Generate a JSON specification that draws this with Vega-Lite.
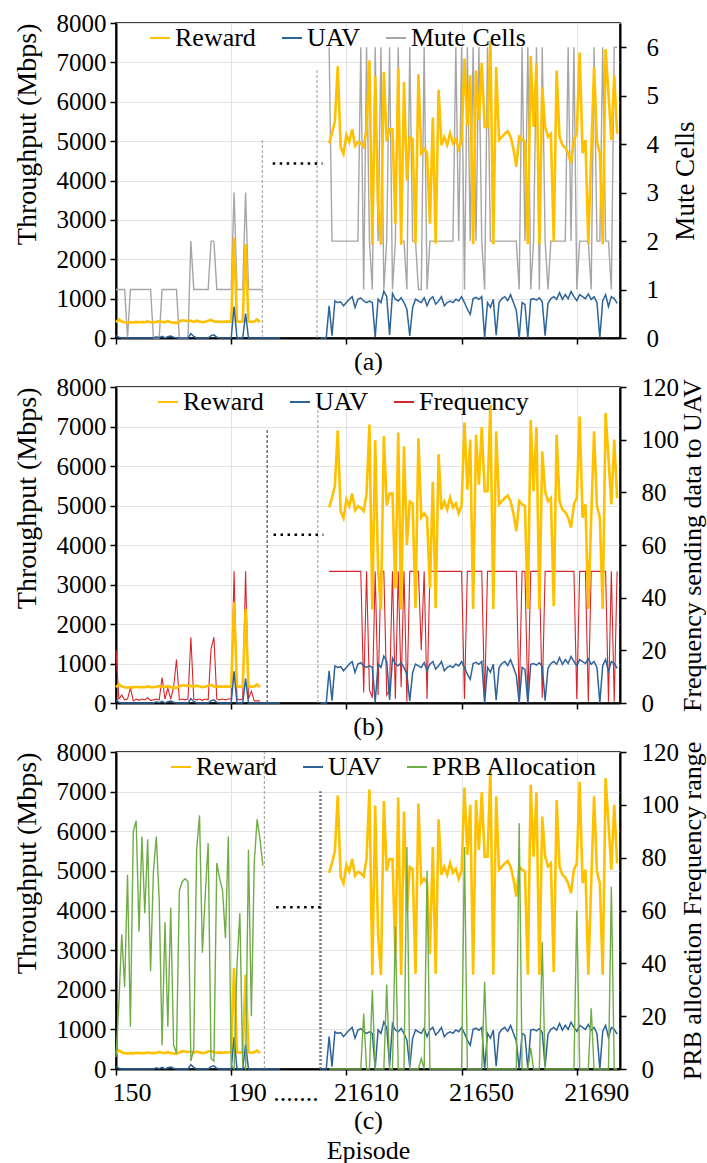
{
"$schema": "https://vega.github.io/schema/vega-lite/v6.json",
"background": "white",
"padding": {"left": 12, "top": 10, "right": 0, "bottom": 2},
"datasets": {"d": [
{"ep":150,"seg":"L","Reward":400,"UAV":60,"Mute":1,"Freq":20,"PRB":4.5},
{"ep":151,"seg":"L","Reward":470,"UAV":20,"Mute":1,"Freq":1.5,"PRB":25},
{"ep":152,"seg":"L","Reward":420,"UAV":0,"Mute":1,"Freq":3,"PRB":51},
{"ep":153,"seg":"L","Reward":400,"UAV":0,"Mute":1,"Freq":1.2,"PRB":31},
{"ep":154,"seg":"L","Reward":390,"UAV":0,"Mute":0,"Freq":1.5,"PRB":73.5},
{"ep":155,"seg":"L","Reward":400,"UAV":0,"Mute":1,"Freq":5.7,"PRB":16},
{"ep":156,"seg":"L","Reward":395,"UAV":0,"Mute":1,"Freq":0.8,"PRB":90},
{"ep":157,"seg":"L","Reward":410,"UAV":0,"Mute":1,"Freq":1.5,"PRB":94},
{"ep":158,"seg":"L","Reward":400,"UAV":0,"Mute":1,"Freq":1.0,"PRB":52},
{"ep":159,"seg":"L","Reward":405,"UAV":0,"Mute":1,"Freq":1.5,"PRB":88},
{"ep":160,"seg":"L","Reward":400,"UAV":0,"Mute":1,"Freq":1.2,"PRB":59},
{"ep":161,"seg":"L","Reward":420,"UAV":0,"Mute":1,"Freq":2,"PRB":87},
{"ep":162,"seg":"L","Reward":400,"UAV":0,"Mute":1,"Freq":1,"PRB":37},
{"ep":163,"seg":"L","Reward":400,"UAV":0,"Mute":0,"Freq":1.2,"PRB":75},
{"ep":164,"seg":"L","Reward":410,"UAV":30,"Mute":0,"Freq":1.5,"PRB":88},
{"ep":165,"seg":"L","Reward":430,"UAV":10,"Mute":0,"Freq":1.2,"PRB":64},
{"ep":166,"seg":"L","Reward":410,"UAV":40,"Mute":1,"Freq":9.7,"PRB":9},
{"ep":167,"seg":"L","Reward":400,"UAV":0,"Mute":1,"Freq":1.5,"PRB":55.5},
{"ep":168,"seg":"L","Reward":430,"UAV":30,"Mute":1,"Freq":5.7,"PRB":16},
{"ep":169,"seg":"L","Reward":400,"UAV":50,"Mute":1,"Freq":1.5,"PRB":61},
{"ep":170,"seg":"L","Reward":390,"UAV":20,"Mute":1,"Freq":6,"PRB":9},
{"ep":171,"seg":"L","Reward":380,"UAV":0,"Mute":1,"Freq":16.5,"PRB":6},
{"ep":172,"seg":"L","Reward":420,"UAV":0,"Mute":0,"Freq":1.2,"PRB":67.5},
{"ep":173,"seg":"L","Reward":450,"UAV":0,"Mute":0,"Freq":1.5,"PRB":71},
{"ep":174,"seg":"L","Reward":440,"UAV":0,"Mute":0,"Freq":1.2,"PRB":72},
{"ep":175,"seg":"L","Reward":430,"UAV":0,"Mute":0,"Freq":1.5,"PRB":71},
{"ep":176,"seg":"L","Reward":440,"UAV":110,"Mute":2,"Freq":25,"PRB":3},
{"ep":177,"seg":"L","Reward":410,"UAV":40,"Mute":1,"Freq":1.5,"PRB":7.5},
{"ep":178,"seg":"L","Reward":440,"UAV":0,"Mute":1,"Freq":1.2,"PRB":83},
{"ep":179,"seg":"L","Reward":420,"UAV":0,"Mute":1,"Freq":1.5,"PRB":96},
{"ep":180,"seg":"L","Reward":400,"UAV":0,"Mute":1,"Freq":1,"PRB":44},
{"ep":181,"seg":"L","Reward":410,"UAV":0,"Mute":1,"Freq":1.5,"PRB":66},
{"ep":182,"seg":"L","Reward":440,"UAV":0,"Mute":1,"Freq":1.2,"PRB":85.5},
{"ep":183,"seg":"L","Reward":460,"UAV":60,"Mute":2,"Freq":20.5,"PRB":4},
{"ep":184,"seg":"L","Reward":420,"UAV":80,"Mute":2,"Freq":25,"PRB":3},
{"ep":185,"seg":"L","Reward":410,"UAV":20,"Mute":1,"Freq":1.5,"PRB":78},
{"ep":186,"seg":"L","Reward":420,"UAV":0,"Mute":1,"Freq":1.2,"PRB":72},
{"ep":187,"seg":"L","Reward":410,"UAV":0,"Mute":1,"Freq":1.5,"PRB":67.5},
{"ep":188,"seg":"L","Reward":420,"UAV":0,"Mute":1,"Freq":1.2,"PRB":49.5},
{"ep":189,"seg":"L","Reward":415,"UAV":0,"Mute":1,"Freq":1.5,"PRB":88},
{"ep":190,"seg":"L","Reward":420,"UAV":0,"Mute":1,"Freq":1.5,"PRB":1.5},
{"ep":191,"seg":"L","Reward":2550,"UAV":800,"Mute":3,"Freq":50,"PRB":0},
{"ep":192,"seg":"L","Reward":420,"UAV":0,"Mute":1,"Freq":1.5,"PRB":39},
{"ep":193,"seg":"L","Reward":410,"UAV":0,"Mute":1,"Freq":1.2,"PRB":59},
{"ep":194,"seg":"L","Reward":420,"UAV":0,"Mute":1,"Freq":1.5,"PRB":1.5},
{"ep":195,"seg":"L","Reward":2380,"UAV":620,"Mute":3,"Freq":50,"PRB":0},
{"ep":196,"seg":"L","Reward":420,"UAV":0,"Mute":1,"Freq":1.5,"PRB":83},
{"ep":197,"seg":"L","Reward":410,"UAV":0,"Mute":1,"Freq":4.5,"PRB":20},
{"ep":198,"seg":"L","Reward":420,"UAV":0,"Mute":1,"Freq":0.8,"PRB":78},
{"ep":199,"seg":"L","Reward":470,"UAV":0,"Mute":1,"Freq":0.8,"PRB":94.5},
{"ep":200,"seg":"L","Reward":400,"UAV":0,"Mute":1,"Freq":0.8,"PRB":87},
{"ep":201,"seg":"L","UAV":0,"Mute":1,"PRB":77},
{"ep":202,"seg":"L","UAV":0},
{"ep":203,"seg":"L","UAV":0},
{"ep":204,"seg":"L","UAV":0},
{"ep":205,"seg":"L","UAV":0},
{"ep":206,"seg":"L","UAV":0},
{"ep":207,"seg":"L","UAV":0},
{"ep":221,"seg":"R","UAV":0},
{"ep":222,"seg":"R","UAV":0},
{"ep":223,"seg":"R","UAV":0},
{"ep":224,"seg":"R","Reward":4950,"UAV":817,"Mute":6,"Freq":50,"PRB":0},
{"ep":225,"seg":"R","Reward":5200,"UAV":60,"Mute":2,"Freq":50,"PRB":0},
{"ep":226,"seg":"R","Reward":5500,"UAV":940,"Mute":2,"Freq":50,"PRB":0},
{"ep":227,"seg":"R","Reward":6900,"UAV":900,"Mute":2,"Freq":50,"PRB":0},
{"ep":228,"seg":"R","Reward":4850,"UAV":920,"Mute":2,"Freq":50,"PRB":0},
{"ep":229,"seg":"R","Reward":4680,"UAV":817,"Mute":2,"Freq":50,"PRB":0},
{"ep":230,"seg":"R","Reward":5150,"UAV":900,"Mute":2,"Freq":50,"PRB":0},
{"ep":231,"seg":"R","Reward":4980,"UAV":985,"Mute":2,"Freq":50,"PRB":0},
{"ep":232,"seg":"R","Reward":5300,"UAV":1050,"Mute":2,"Freq":50,"PRB":0},
{"ep":233,"seg":"R","Reward":4880,"UAV":775,"Mute":2,"Freq":50,"PRB":0},
{"ep":234,"seg":"R","Reward":4980,"UAV":985,"Mute":2,"Freq":50,"PRB":0},
{"ep":235,"seg":"R","Reward":4940,"UAV":1020,"Mute":6,"Freq":50,"PRB":0},
{"ep":236,"seg":"R","Reward":4860,"UAV":940,"Mute":1,"Freq":4,"PRB":21},
{"ep":237,"seg":"R","Reward":5300,"UAV":900,"Mute":6,"Freq":50,"PRB":0},
{"ep":238,"seg":"R","Reward":7050,"UAV":940,"Mute":2,"Freq":5,"PRB":0},
{"ep":239,"seg":"R","Reward":2370,"UAV":900,"Mute":1,"Freq":2,"PRB":30},
{"ep":240,"seg":"R","Reward":6650,"UAV":20,"Mute":6,"Freq":50,"PRB":0},
{"ep":241,"seg":"R","Reward":3400,"UAV":985,"Mute":2,"Freq":3,"PRB":0},
{"ep":242,"seg":"R","Reward":2370,"UAV":900,"Mute":6,"Freq":50,"PRB":0},
{"ep":243,"seg":"R","Reward":6760,"UAV":1190,"Mute":1,"Freq":50,"PRB":0},
{"ep":244,"seg":"R","Reward":5000,"UAV":1050,"Mute":2,"Freq":3,"PRB":32},
{"ep":245,"seg":"R","Reward":5300,"UAV":80,"Mute":6,"Freq":5,"PRB":0},
{"ep":246,"seg":"R","Reward":5300,"UAV":1136,"Mute":1,"Freq":50,"PRB":0},
{"ep":247,"seg":"R","Reward":2900,"UAV":985,"Mute":2,"Freq":1.5,"PRB":54},
{"ep":248,"seg":"R","Reward":6850,"UAV":940,"Mute":6,"Freq":50,"PRB":0},
{"ep":249,"seg":"R","Reward":2370,"UAV":1020,"Mute":2,"Freq":6,"PRB":0},
{"ep":250,"seg":"R","Reward":6500,"UAV":900,"Mute":2,"Freq":50,"PRB":0},
{"ep":251,"seg":"R","Reward":4000,"UAV":730,"Mute":1,"Freq":0.5,"PRB":84},
{"ep":252,"seg":"R","Reward":5100,"UAV":50,"Mute":6,"Freq":50,"PRB":0},
{"ep":253,"seg":"R","Reward":5050,"UAV":775,"Mute":2,"Freq":50,"PRB":0},
{"ep":254,"seg":"R","Reward":2400,"UAV":985,"Mute":2,"Freq":50,"PRB":0},
{"ep":255,"seg":"R","Reward":6700,"UAV":940,"Mute":1,"Freq":50,"PRB":0},
{"ep":256,"seg":"R","Reward":4700,"UAV":900,"Mute":1,"Freq":20,"PRB":4},
{"ep":257,"seg":"R","Reward":4800,"UAV":1020,"Mute":6,"Freq":50,"PRB":0},
{"ep":258,"seg":"R","Reward":4700,"UAV":817,"Mute":1,"Freq":1.5,"PRB":75},
{"ep":259,"seg":"R","Reward":2900,"UAV":985,"Mute":2,"Freq":50,"PRB":0},
{"ep":260,"seg":"R","Reward":5600,"UAV":1050,"Mute":2,"Freq":50,"PRB":0},
{"ep":261,"seg":"R","Reward":2400,"UAV":860,"Mute":2,"Freq":50,"PRB":0},
{"ep":262,"seg":"R","Reward":6300,"UAV":940,"Mute":2,"Freq":50,"PRB":0},
{"ep":263,"seg":"R","Reward":4900,"UAV":1050,"Mute":2,"Freq":50,"PRB":0},
{"ep":264,"seg":"R","Reward":5100,"UAV":817,"Mute":2,"Freq":50,"PRB":0},
{"ep":265,"seg":"R","Reward":4900,"UAV":900,"Mute":2,"Freq":50,"PRB":0},
{"ep":266,"seg":"R","Reward":5200,"UAV":940,"Mute":2,"Freq":50,"PRB":0},
{"ep":267,"seg":"R","Reward":4950,"UAV":900,"Mute":2,"Freq":50,"PRB":0},
{"ep":268,"seg":"R","Reward":5050,"UAV":985,"Mute":6,"Freq":50,"PRB":0},
{"ep":269,"seg":"R","Reward":4800,"UAV":940,"Mute":2,"Freq":50,"PRB":0},
{"ep":270,"seg":"R","Reward":5000,"UAV":1050,"Mute":6,"Freq":50,"PRB":0},
{"ep":271,"seg":"R","Reward":7100,"UAV":900,"Mute":1,"Freq":1.5,"PRB":84},
{"ep":272,"seg":"R","Reward":5400,"UAV":730,"Mute":6,"Freq":50,"PRB":0},
{"ep":273,"seg":"R","Reward":6670,"UAV":600,"Mute":2,"Freq":50,"PRB":0},
{"ep":274,"seg":"R","Reward":2380,"UAV":1000,"Mute":6,"Freq":50,"PRB":0},
{"ep":275,"seg":"R","Reward":6790,"UAV":1030,"Mute":2,"Freq":50,"PRB":0},
{"ep":276,"seg":"R","Reward":5530,"UAV":980,"Mute":6,"Freq":50,"PRB":0},
{"ep":277,"seg":"R","Reward":6980,"UAV":1050,"Mute":2,"Freq":50,"PRB":0},
{"ep":278,"seg":"R","Reward":5360,"UAV":0,"Mute":1,"Freq":0.5,"PRB":33},
{"ep":279,"seg":"R","Reward":5360,"UAV":900,"Mute":6,"Freq":50,"PRB":0},
{"ep":280,"seg":"R","Reward":7550,"UAV":780,"Mute":2,"Freq":50,"PRB":0},
{"ep":281,"seg":"R","Reward":2380,"UAV":980,"Mute":2,"Freq":50,"PRB":0},
{"ep":282,"seg":"R","Reward":6880,"UAV":70,"Mute":2,"Freq":50,"PRB":0},
{"ep":283,"seg":"R","Reward":5030,"UAV":900,"Mute":2,"Freq":50,"PRB":0},
{"ep":284,"seg":"R","Reward":5110,"UAV":1000,"Mute":2,"Freq":50,"PRB":0},
{"ep":285,"seg":"R","Reward":5190,"UAV":1050,"Mute":2,"Freq":50,"PRB":0},
{"ep":286,"seg":"R","Reward":5250,"UAV":950,"Mute":2,"Freq":50,"PRB":0},
{"ep":287,"seg":"R","Reward":5110,"UAV":1100,"Mute":2,"Freq":50,"PRB":0},
{"ep":288,"seg":"R","Reward":4800,"UAV":900,"Mute":2,"Freq":50,"PRB":0},
{"ep":289,"seg":"R","Reward":4350,"UAV":700,"Mute":2,"Freq":50,"PRB":0},
{"ep":290,"seg":"R","Reward":5110,"UAV":0,"Mute":1,"Freq":0.5,"PRB":93},
{"ep":291,"seg":"R","Reward":5030,"UAV":900,"Mute":6,"Freq":50,"PRB":0},
{"ep":292,"seg":"R","Reward":4980,"UAV":850,"Mute":2,"Freq":50,"PRB":0},
{"ep":293,"seg":"R","Reward":2380,"UAV":0,"Mute":6,"Freq":0.5,"PRB":0},
{"ep":294,"seg":"R","Reward":7170,"UAV":980,"Mute":1,"Freq":50,"PRB":8},
{"ep":295,"seg":"R","Reward":5360,"UAV":1000,"Mute":2,"Freq":50,"PRB":0},
{"ep":296,"seg":"R","Reward":6980,"UAV":960,"Mute":6,"Freq":50,"PRB":0},
{"ep":297,"seg":"R","Reward":2380,"UAV":1020,"Mute":1,"Freq":50,"PRB":0},
{"ep":298,"seg":"R","Reward":6370,"UAV":920,"Mute":6,"Freq":2,"PRB":48},
{"ep":299,"seg":"R","Reward":5360,"UAV":60,"Mute":2,"Freq":50,"PRB":0},
{"ep":300,"seg":"R","Reward":5110,"UAV":880,"Mute":1,"Freq":50,"PRB":0},
{"ep":301,"seg":"R","Reward":5190,"UAV":1000,"Mute":2,"Freq":50,"PRB":0},
{"ep":302,"seg":"R","Reward":2450,"UAV":1050,"Mute":2,"Freq":50,"PRB":0},
{"ep":303,"seg":"R","Reward":6790,"UAV":980,"Mute":2,"Freq":50,"PRB":0},
{"ep":304,"seg":"R","Reward":5110,"UAV":1150,"Mute":2,"Freq":50,"PRB":0},
{"ep":305,"seg":"R","Reward":4900,"UAV":980,"Mute":2,"Freq":50,"PRB":0},
{"ep":306,"seg":"R","Reward":4830,"UAV":1100,"Mute":2,"Freq":50,"PRB":0},
{"ep":307,"seg":"R","Reward":4690,"UAV":1000,"Mute":6,"Freq":50,"PRB":0},
{"ep":308,"seg":"R","Reward":4440,"UAV":1180,"Mute":2,"Freq":50,"PRB":0},
{"ep":309,"seg":"R","Reward":5030,"UAV":1050,"Mute":6,"Freq":50,"PRB":0},
{"ep":310,"seg":"R","Reward":5190,"UAV":950,"Mute":1,"Freq":1.5,"PRB":60},
{"ep":311,"seg":"R","Reward":7250,"UAV":1100,"Mute":2,"Freq":50,"PRB":0},
{"ep":312,"seg":"R","Reward":4690,"UAV":1050,"Mute":2,"Freq":50,"PRB":0},
{"ep":313,"seg":"R","Reward":5030,"UAV":1000,"Mute":2,"Freq":50,"PRB":0},
{"ep":314,"seg":"R","Reward":2380,"UAV":1120,"Mute":2,"Freq":0.5,"PRB":0},
{"ep":315,"seg":"R","Reward":4690,"UAV":980,"Mute":1,"Freq":50,"PRB":23},
{"ep":316,"seg":"R","Reward":6880,"UAV":1050,"Mute":6,"Freq":50,"PRB":0},
{"ep":317,"seg":"R","Reward":4980,"UAV":900,"Mute":2,"Freq":50,"PRB":0},
{"ep":318,"seg":"R","Reward":4690,"UAV":0,"Mute":2,"Freq":50,"PRB":0},
{"ep":319,"seg":"R","Reward":2380,"UAV":950,"Mute":6,"Freq":50,"PRB":0},
{"ep":320,"seg":"R","Reward":7340,"UAV":1100,"Mute":2,"Freq":50,"PRB":0},
{"ep":321,"seg":"R","Reward":6200,"UAV":800,"Mute":2,"Freq":0.5,"PRB":0},
{"ep":322,"seg":"R","Reward":5030,"UAV":1050,"Mute":1,"Freq":50,"PRB":69},
{"ep":323,"seg":"R","Reward":6670,"UAV":1000,"Mute":6,"Freq":0.5,"PRB":0},
{"ep":324,"seg":"R","Reward":5190,"UAV":880,"Mute":6,"Freq":50,"PRB":0}
]},
"data": {"name": "d"},
"spacing": 49,
"bounds": "flush",
"resolve": {"scale": {"color": "independent"}, "legend": {"color": "independent"}},
"vconcat": [
{
 "width": 504, "height": 315,
 "encoding": {"x": {"field": "ep", "type": "quantitative", "scale": {"domain": [150, 325], "nice": false, "zero": false},
   "axis": {"values": [150, 190, 230, 270, 310], "labels": false, "grid": true, "title": "(a)", "titlePadding": 4, "labelFont": "Liberation Serif", "titleFont": "Liberation Serif"}}},
 "layer": [
  {"mark": {"type": "line", "strokeWidth": 1.4},
   "encoding": {
    "y": {"field": "Mute", "type": "quantitative", "scale": {"domain": [0, 6.5], "nice": false},
      "axis": {"orient": "right", "values": [0, 1, 2, 3, 4, 5, 6], "grid": false, "title": "Mute Cells", "titleFontSize": 27, "titleAngle": 270, "titleBaseline": "top", "labelPadding": 20, "titlePadding": 14, "labelFont": "Liberation Serif", "titleFont": "Liberation Serif"}},
    "color": {"datum": "Mute Cells", "type": "nominal", "scale": {"domain": ["Reward", "UAV", "Mute Cells"], "range": ["#FFC000", "#2E6399", "#A6A6A6"]}, "legend": {"title": null, "legendX": 31, "legendY": 2, "labelFont": "Liberation Serif"}},
    "detail": {"field": "seg"}}},
  {"encoding": {"y": {"field": "val", "type": "quantitative", "scale": {"domain": [0, 8000], "nice": false},
     "axis": {"orient": "left", "values": [0, 1000, 2000, 3000, 4000, 5000, 6000, 7000, 8000], "format": "d", "grid": true, "title": "Throughput (Mbps)", "titleFontSize": 28, "titleAnchor": "end", "titlePadding": 15, "labelFont": "Liberation Serif", "titleFont": "Liberation Serif"}}},
   "layer": [
    {"data": {"values": [{"ep": 200.8, "val": 0, "val2": 5025}, {"ep": 219.8, "val": 0, "val2": 6800}]},
     "mark": {"type": "rule", "color": "#999999", "strokeWidth": 1, "strokeDash": [3, 2]},
     "encoding": {"y2": {"field": "val2"}}},
    {"data": {"values": [{"ep": 204.4, "ep2": 221.7, "val": 4430}]},
     "mark": {"type": "rule", "color": "black", "strokeWidth": 2.5, "strokeDash": [2.5, 4.5]},
     "encoding": {"x2": {"field": "ep2"}}},
    {"transform": [{"fold": ["Reward", "UAV"], "as": ["series", "val"]}],
     "mark": {"type": "line"},
     "encoding": {
      "color": {"field": "series", "type": "nominal", "scale": {"domain": ["Reward", "UAV", "Mute Cells"], "range": ["#FFC000", "#2E6399", "#A6A6A6"]}, "legend": {"title": null, "legendX": 31, "legendY": 2, "labelFont": "Liberation Serif"}},
      "strokeWidth": {"field": "series", "type": "nominal", "scale": {"domain": ["Reward", "UAV"], "range": [2.6, 1.5]}, "legend": null},
      "detail": {"field": "seg"}}}
   ]}
 ],
 "resolve": {"scale": {"y": "independent"}}
},
{
 "width": 504, "height": 316,
 "encoding": {"x": {"field": "ep", "type": "quantitative", "scale": {"domain": [150, 325], "nice": false, "zero": false},
   "axis": {"values": [150, 190, 230, 270, 310], "labels": false, "grid": true, "title": "(b)", "titlePadding": 4, "labelFont": "Liberation Serif", "titleFont": "Liberation Serif"}}},
 "layer": [
  {"mark": {"type": "line", "strokeWidth": 1.1},
   "encoding": {
    "y": {"field": "Freq", "type": "quantitative", "scale": {"domain": [0, 120], "nice": false},
      "axis": {"orient": "right", "values": [0, 20, 40, 60, 80, 100, 120], "grid": false, "title": "Frequency sending data to UAV", "titleFontSize": 26, "titleAngle": 270, "titleBaseline": "top", "labelPadding": 15, "titlePadding": 1, "labelFont": "Liberation Serif", "titleFont": "Liberation Serif"}},
    "color": {"datum": "Frequency", "type": "nominal", "scale": {"domain": ["Reward", "UAV", "Frequency"], "range": ["#FFC000", "#2E6399", "#D7262B"]}, "legend": {"title": null, "legendX": 39, "legendY": 2, "labelFont": "Liberation Serif"}},
    "detail": {"field": "seg"}}},
  {"encoding": {"y": {"field": "val", "type": "quantitative", "scale": {"domain": [0, 8000], "nice": false},
     "axis": {"orient": "left", "values": [0, 1000, 2000, 3000, 4000, 5000, 6000, 7000, 8000], "format": "d", "grid": true, "title": "Throughput (Mbps)", "titleFontSize": 28, "titleAnchor": "end", "titlePadding": 15, "labelFont": "Liberation Serif", "titleFont": "Liberation Serif"}}},
   "layer": [
    {"data": {"values": [{"ep": 202.5, "val": 0, "val2": 6910}]},
     "mark": {"type": "rule", "color": "#777777", "strokeWidth": 1.6, "strokeDash": [3, 2]},
     "encoding": {"y2": {"field": "val2"}}},
    {"data": {"values": [{"ep": 220.1, "val": 0, "val2": 7580}]},
     "mark": {"type": "rule", "color": "#999999", "strokeWidth": 1, "strokeDash": [3, 2]},
     "encoding": {"y2": {"field": "val2"}}},
    {"data": {"values": [{"ep": 204.7, "ep2": 222, "val": 4260}]},
     "mark": {"type": "rule", "color": "black", "strokeWidth": 2.5, "strokeDash": [2.5, 4.5]},
     "encoding": {"x2": {"field": "ep2"}}},
    {"transform": [{"fold": ["Reward", "UAV"], "as": ["series", "val"]}],
     "mark": {"type": "line"},
     "encoding": {
      "color": {"field": "series", "type": "nominal", "scale": {"domain": ["Reward", "UAV", "Frequency"], "range": ["#FFC000", "#2E6399", "#D7262B"]}, "legend": {"title": null, "legendX": 39, "legendY": 2, "labelFont": "Liberation Serif"}},
      "strokeWidth": {"field": "series", "type": "nominal", "scale": {"domain": ["Reward", "UAV"], "range": [2.6, 1.5]}, "legend": null},
      "detail": {"field": "seg"}}}
   ]}
 ],
 "resolve": {"scale": {"y": "independent"}}
},
{
 "width": 504, "height": 317,
 "encoding": {"x": {"field": "ep", "type": "quantitative", "scale": {"domain": [150, 325], "nice": false, "zero": false},
   "axis": {"values": [150, 190, 230, 270, 310], "grid": true, "labelOverlap": false, "labelAlign": "left", "labelFontSize": 26,
     "labelOffset": {"condition": {"test": "datum.value < 200", "value": -4}, "value": -13},
     "labelExpr": "datum.value == 190 ? '190 .......' : (datum.value < 200 ? datum.label : format(datum.value + 21380, 'd'))",
     "title": ["(c)", "Episode"], "titlePadding": 2, "titleLineHeight": 30, "labelFont": "Liberation Serif", "titleFont": "Liberation Serif"}}},
 "layer": [
  {"encoding": {"y": {"field": "val", "type": "quantitative", "scale": {"domain": [0, 8000], "nice": false},
     "axis": {"orient": "left", "values": [0, 1000, 2000, 3000, 4000, 5000, 6000, 7000, 8000], "format": "d", "grid": true, "title": "Throughput (Mbps)", "titleFontSize": 28, "titleAnchor": "end", "titlePadding": 15, "labelFont": "Liberation Serif", "titleFont": "Liberation Serif"}}},
   "layer": [
    {"data": {"values": [{"ep": 201.5, "val": 0, "val2": 8000}]},
     "mark": {"type": "rule", "color": "#999999", "strokeWidth": 1, "strokeDash": [3, 2]},
     "encoding": {"y2": {"field": "val2"}}},
    {"data": {"values": [{"ep": 221, "val": 0, "val2": 7010}]},
     "mark": {"type": "rule", "color": "#777777", "strokeWidth": 2.5, "strokeDash": [2, 2]},
     "encoding": {"y2": {"field": "val2"}}},
    {"data": {"values": [{"ep": 205.6, "ep2": 222, "val": 4085}]},
     "mark": {"type": "rule", "color": "black", "strokeWidth": 2.5, "strokeDash": [2.5, 4.5]},
     "encoding": {"x2": {"field": "ep2"}}},
    {"transform": [{"fold": ["Reward", "UAV"], "as": ["series", "val"]}],
     "mark": {"type": "line"},
     "encoding": {
      "color": {"field": "series", "type": "nominal", "scale": {"domain": ["Reward", "UAV", "PRB Allocation"], "range": ["#FFC000", "#2E6399", "#70AD47"]}, "legend": {"title": null, "legendX": 52, "legendY": 2, "labelFont": "Liberation Serif"}},
      "strokeWidth": {"field": "series", "type": "nominal", "scale": {"domain": ["Reward", "UAV"], "range": [2.6, 1.5]}, "legend": null},
      "detail": {"field": "seg"}}}
   ]},
  {"mark": {"type": "line", "strokeWidth": 1.4},
   "encoding": {
    "y": {"field": "PRB", "type": "quantitative", "scale": {"domain": [0, 120], "nice": false},
      "axis": {"orient": "right", "values": [0, 20, 40, 60, 80, 100, 120], "grid": false, "title": "PRB allocation Frequency range", "titleFontSize": 26, "titleAngle": 270, "titleBaseline": "top", "labelPadding": 15, "titlePadding": 1, "labelFont": "Liberation Serif", "titleFont": "Liberation Serif"}},
    "color": {"datum": "PRB Allocation", "type": "nominal", "scale": {"domain": ["Reward", "UAV", "PRB Allocation"], "range": ["#FFC000", "#2E6399", "#70AD47"]}, "legend": {"title": null, "legendX": 52, "legendY": 2, "labelFont": "Liberation Serif"}},
    "detail": {"field": "seg"}}}
 ],
 "resolve": {"scale": {"y": "independent"}}
}
],
"config": {
 "font": "Liberation Serif",
 "style": {"guide-label": {"font": "Liberation Serif"}, "guide-title": {"font": "Liberation Serif"}},
 "view": {"stroke": "black", "strokeWidth": 1.5},
 "axis": {"labelFont": "Liberation Serif", "titleFont": "Liberation Serif", "labelFontSize": 25, "titleFontSize": 26, "titleFontWeight": "normal",
   "labelColor": "black", "titleColor": "black", "domainColor": "black", "domainWidth": 2, "tickColor": "black", "tickWidth": 1.5, "tickSize": 6,
   "gridColor": "#e3e3e3", "gridWidth": 1, "labelPadding": 4},
 "legend": {"orient": "none", "direction": "horizontal", "symbolType": "stroke", "symbolSize": 400, "symbolStrokeWidth": 2,
   "labelFont": "Liberation Serif", "labelFontSize": 26, "labelColor": "black", "columnPadding": 22, "labelOffset": 2, "padding": 0, "labelLimit": 400}
}
}
